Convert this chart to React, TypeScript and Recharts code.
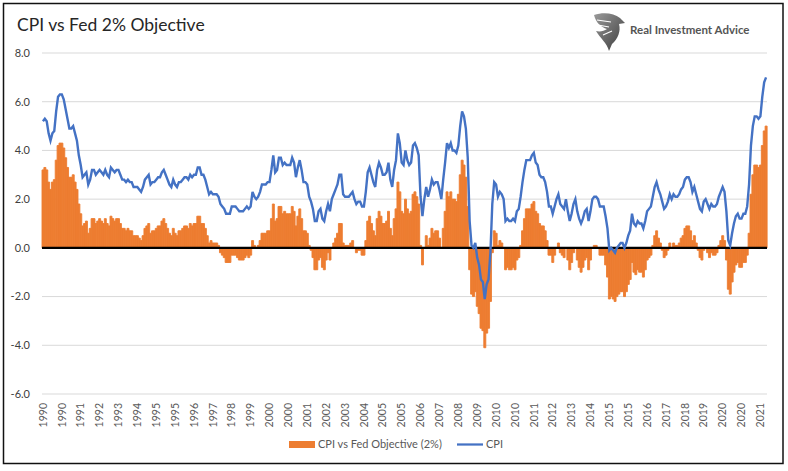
import React from "react";
import {
  ComposedChart,
  Bar,
  Line,
  XAxis,
  YAxis,
  CartesianGrid,
  ReferenceLine,
} from "recharts";

// CPI-U, year over year %, monthly Jan 1990 .. Dec 2021
const cpi1990s = [
  5.2, 5.3, 5.2, 4.7, 4.4, 4.7, 4.8, 5.6, 6.2, 6.3, 6.3, 6.1,
  5.7, 5.3, 4.9, 4.9, 5.0, 4.7, 4.4, 3.8, 3.4, 2.9, 3.0, 3.1,
  2.6, 2.8, 3.2, 3.2, 3.0, 3.1, 3.2, 3.1, 3.0, 3.2, 3.0, 2.9,
  3.3, 3.2, 3.1, 3.2, 3.2, 3.0, 2.8, 2.8, 2.7, 2.8, 2.7, 2.7,
  2.5, 2.5, 2.5, 2.4, 2.3, 2.5, 2.8, 2.9, 3.0, 2.6, 2.7, 2.7,
  2.8, 2.9, 2.9, 3.1, 3.2, 3.0, 2.8, 2.6, 2.5, 2.8, 2.6, 2.5,
  2.7, 2.7, 2.8, 2.9, 2.9, 2.8, 3.0, 2.9, 3.0, 3.0, 3.3, 3.3,
  3.0, 3.0, 2.8, 2.5, 2.2, 2.3, 2.2, 2.2, 2.2, 2.1, 1.8, 1.7,
  1.6, 1.4, 1.4, 1.4, 1.7, 1.7, 1.7, 1.6, 1.5, 1.5, 1.5, 1.6,
  1.7, 1.6, 1.7, 2.3, 2.1, 2.0, 2.1, 2.3, 2.6, 2.6, 2.6, 2.7,
];

const cpi2000s = [
  2.7, 3.2, 3.8, 3.1, 3.2, 3.7, 3.7, 3.4, 3.5, 3.4, 3.4, 3.4,
  3.7, 3.5, 2.9, 3.3, 3.6, 3.2, 2.7, 2.7, 2.6, 2.1, 1.9, 1.6,
  1.1, 1.1, 1.5, 1.6, 1.2, 1.1, 1.5, 1.8, 1.5, 2.0, 2.2, 2.4,
  2.6, 3.0, 3.0, 2.2, 2.1, 2.1, 2.1, 2.2, 2.3, 2.0, 1.8, 1.9,
  1.9, 1.7, 1.7, 2.3, 3.1, 3.3, 3.0, 2.7, 2.5, 3.2, 3.5, 3.3,
  3.0, 3.0, 3.1, 3.5, 2.8, 2.5, 3.2, 3.6, 4.7, 4.3, 3.5, 3.4,
  4.0, 3.6, 3.4, 3.5, 4.2, 4.3, 4.1, 3.8, 2.1, 1.3, 2.0, 2.5,
  2.1, 2.4, 2.8, 2.6, 2.7, 2.7, 2.4, 2.0, 2.8, 3.5, 4.3, 4.1,
  4.3, 4.0, 4.0, 3.9, 4.2, 5.0, 5.6, 5.4, 4.9, 3.7, 1.1, 0.1,
  0.0, 0.2, -0.4, -0.7, -1.3, -1.4, -2.1, -1.5, -1.3, -0.2, 1.8, 2.7,
];

const cpi2010s = [
  2.6, 2.1, 2.3, 2.2, 2.0, 1.1, 1.2, 1.1, 1.1, 1.2, 1.1, 1.5,
  1.6, 2.1, 2.7, 3.2, 3.6, 3.6, 3.6, 3.8, 3.9, 3.5, 3.4, 3.0,
  2.9, 2.9, 2.7, 2.3, 1.7, 1.7, 1.4, 1.7, 2.0, 2.2, 1.8, 1.7,
  1.6, 2.0, 1.5, 1.1, 1.4, 1.8, 2.0, 1.5, 1.2, 1.0, 1.2, 1.5,
  1.6, 1.1, 1.5, 2.0, 2.1, 2.1, 2.0, 1.7, 1.7, 1.7, 1.3, 0.8,
  -0.1, 0.0, -0.1, -0.2, 0.0, 0.1, 0.2, 0.2, 0.0, 0.2, 0.5, 0.7,
  1.4, 1.0, 0.9, 1.1, 1.0, 1.0, 0.8, 1.1, 1.5, 1.6, 1.7, 2.1,
  2.5, 2.7, 2.4, 2.2, 1.9, 1.6, 1.7, 1.9, 2.2, 2.0, 2.2, 2.1,
  2.1, 2.2, 2.4, 2.5, 2.8, 2.9, 2.9, 2.7, 2.3, 2.5, 2.2, 1.9,
  1.6, 1.5, 1.9, 2.0, 1.8, 1.6, 1.8, 1.7, 1.7, 1.8, 2.1, 2.3,
];

const cpi2020s = [
  2.5, 2.3, 1.5, 0.3, 0.1, 0.6, 1.0, 1.3, 1.4, 1.2, 1.2, 1.4,
  1.4, 1.7, 2.6, 4.2, 5.0, 5.4, 5.4, 5.3, 5.4, 6.2, 6.8, 7.0,
];

const START_YEAR = 1990;
const FED_TARGET = 2;
const yTicks = [-6, -4, -2, 0, 2, 4, 6, 8];

const cpi = [...cpi1990s, ...cpi2000s, ...cpi2010s, ...cpi2020s];

const data = cpi.map((v, i) => ({
  month: `${START_YEAR + Math.floor(i / 12)}-${String((i % 12) + 1).padStart(2, "0")}`,
  cpi: v,
  gap: Math.round((v - FED_TARGET) * 10) / 10,
}));

const ORANGE = "#ED7D31";
const BLUE = "#4472C4";
const FONT = "Lato, 'Noto Sans', sans-serif";

function YearTick({ x, y, payload }: any) {
  return (
    <g transform={`translate(${x},${y})`}>
      <text
        transform="rotate(-90)"
        textAnchor="end"
        dy="0.35em"
        fontSize={10.5}
        fontFamily={FONT}
        fill="#595959"
      >
        {String(payload.value).slice(0, 4)}
      </text>
    </g>
  );
}

function Logo() {
  return (
    <svg width={788} height={471} style={{ position: "absolute", left: 0, top: 0, pointerEvents: "none" }}>
      <defs>
        <linearGradient id="eagle" x1="0" y1="0" x2="1" y2="1">
          <stop offset="0%" stopColor="#9a9a9a" />
          <stop offset="100%" stopColor="#3a3a3a" />
        </linearGradient>
      </defs>
      <rect x={3.5} y={3.5} width={779.5} height={460} fill="none" stroke="#111" strokeWidth={1.5} />
      <path
        d="M594 15 C603 12 614 13 620 18 L625 23 L619 24 C621 31 618 39 612 44 L609 51 C607 43 600 38 596 31 C600 32 604 31 607 29 C601 27 596 23 594 15 Z"
        fill="url(#eagle)"
      />
      <path d="M597 20 L611 22 M598 25 L609 27 M603 35 L612 31" stroke="#fff" strokeWidth={1.2} fill="none" />
      <text x={630} y={34} fontFamily={FONT} fontWeight={700} fontSize={11.5} fill="#555">
        Real Investment Advice
      </text>
    </svg>
  );
}

function LegendBox() {
  const text = { fontFamily: FONT, fontSize: 11, fill: "#595959" };
  return (
    <svg width={788} height={471} style={{ position: "absolute", left: 0, top: 0, pointerEvents: "none" }}>
      <rect x={289} y={441} width={26} height={7} fill={ORANGE} />
      <text x={318} y={448} {...text}>CPI vs Fed Objective (2%)</text>
      <line x1={457} x2={483} y1={444.5} y2={444.5} stroke={BLUE} strokeWidth={2.25} />
      <text x={486} y={448} {...text}>CPI</text>
    </svg>
  );
}

export default function App() {
  return (
    <div style={{ position: "absolute", left: 0, top: 0, width: 788, height: 471, background: "#fff" }}>
      <div
        style={{
          position: "absolute",
          left: 17,
          top: 14,
          fontFamily: FONT,
          fontSize: 17.5,
          color: "#262626",
          whiteSpace: "nowrap",
        }}
      >
        CPI vs Fed 2% Objective
      </div>
      <ComposedChart
        width={788}
        height={471}
        data={data}
        margin={{ top: 53, right: 21, left: 0, bottom: 0 }}
        barCategoryGap={0}
        barGap={0}
        style={{ position: "absolute", left: 0, top: 0 }}
      >
        <CartesianGrid vertical={false} stroke="#d9d9d9" strokeWidth={1} />
        <XAxis
          dataKey="month"
          interval={9}
          height={77}
          axisLine={false}
          tickLine={false}
          tickSize={0}
          tickMargin={9}
          tick={<YearTick />}
        />
        <YAxis
          width={42}
          domain={[-6, 8]}
          ticks={yTicks}
          axisLine={false}
          tickLine={false}
          tickMargin={6}
          tickFormatter={(v: number) => v.toFixed(1)}
          tick={{ fontSize: 11, fontFamily: FONT, fill: "#404040" }}
        />
        <Bar dataKey="gap" fill={ORANGE} stroke={ORANGE} strokeWidth={0.9} isAnimationActive={false} />
        <ReferenceLine y={0} stroke="#000" strokeWidth={2.2} />
        <Line
          dataKey="cpi"
          type="linear"
          stroke={BLUE}
          strokeWidth={2.4}
          dot={false}
          activeDot={false}
          isAnimationActive={false}
        />
      </ComposedChart>
      <Logo />
      <LegendBox />
    </div>
  );
}
